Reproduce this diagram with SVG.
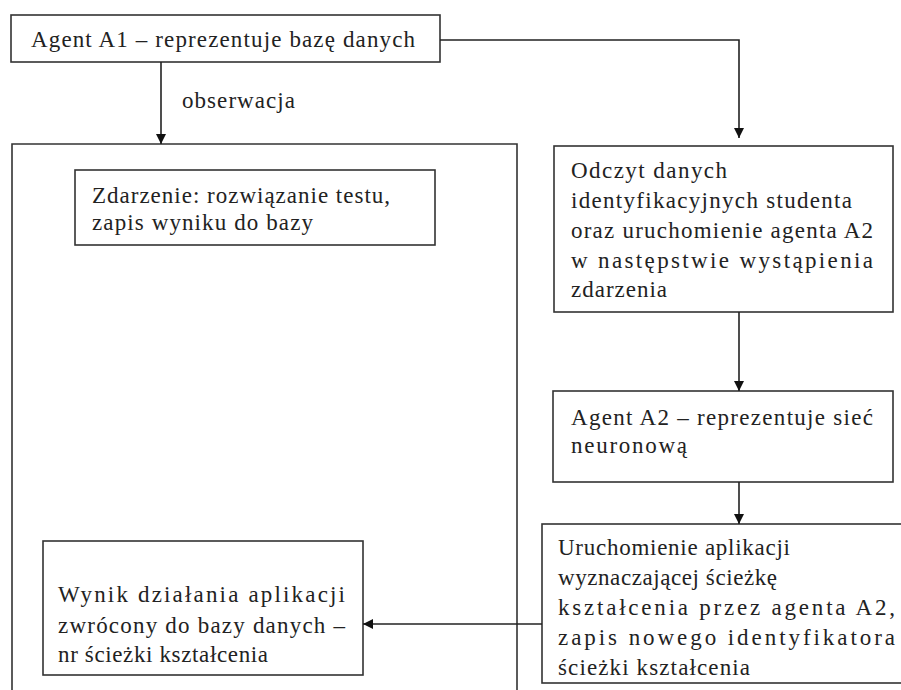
<svg xmlns="http://www.w3.org/2000/svg" width="901" height="690" viewBox="0 0 901 690">
<style>
.box{fill:#fff;stroke:#333;stroke-width:1.6}
.frame{fill:none;stroke:#333;stroke-width:1.6}
.t{font-family:"Liberation Serif","Times New Roman",serif;font-size:23px;fill:#222}
.c{fill:none;stroke:#222;stroke-width:1.6}
</style>
<defs>
<marker id="ah" markerUnits="userSpaceOnUse" markerWidth="11" markerHeight="11" refX="10" refY="5" orient="auto">
<path d="M0,0 L10,5 L0,10 z" fill="#111"/>
</marker>
</defs>
<rect width="901" height="690" fill="#fff"/>
<g id="frame">
<path class="frame" d="M12,700 V144 H517 V700"/>
</g>
<g id="agentA1">
<rect class="box" x="11" y="15" width="429" height="47"/>
<text class="t" x="31" y="47" textLength="384">Agent A1 – reprezentuje bazę danych</text>
</g>
<g id="zdarzenie">
<rect class="box" x="75" y="170" width="360" height="75"/>
<text class="t" x="92" y="203" textLength="298">Zdarzenie: rozwiązanie testu,</text>
<text class="t" x="92" y="230" textLength="221">zapis wyniku do bazy</text>
</g>
<g id="odczyt">
<rect class="box" x="554" y="146" width="339" height="166"/>
<text class="t" x="571" y="178" textLength="156">Odczyt danych</text>
<text class="t" x="571" y="208" textLength="281">identyfikacyjnych studenta</text>
<text class="t" x="571" y="238" textLength="302">oraz uruchomienie agenta A2</text>
<text class="t" x="571" y="268" textLength="302">w następstwie wystąpienia</text>
<text class="t" x="571" y="297" textLength="96">zdarzenia</text>
</g>
<g id="agentA2">
<rect class="box" x="553" y="391" width="340" height="91"/>
<text class="t" x="571" y="425" textLength="302">Agent A2 – reprezentuje sieć</text>
<text class="t" x="571" y="453" textLength="116">neuronową</text>
</g>
<g id="uruchomienie">
<rect class="box" x="542" y="524" width="370" height="159"/>
<text class="t" x="558" y="555" textLength="232">Uruchomienie aplikacji</text>
<text class="t" x="558" y="585" textLength="219">wyznaczającej ścieżkę</text>
<text class="t" x="558" y="615" textLength="337">kształcenia przez agenta A2,</text>
<text class="t" x="558" y="645" textLength="337">zapis nowego identyfikatora</text>
<text class="t" x="558" y="675" textLength="192">ścieżki kształcenia</text>
</g>
<g id="wynik">
<rect class="box" x="43" y="541" width="320" height="134"/>
<text class="t" x="58" y="602" textLength="287">Wynik działania aplikacji</text>
<text class="t" x="58" y="633" textLength="287">zwrócony do bazy danych –</text>
<text class="t" x="58" y="662" textLength="210">nr ścieżki kształcenia</text>
</g>
<g id="connectors">
<path class="c" d="M161,62 V144" marker-end="url(#ah)"/>
<text class="t" x="182" y="108" textLength="113">obserwacja</text>
<path class="c" d="M440,40 H739 V138" marker-end="url(#ah)"/>
<path class="c" d="M739,312 V391" marker-end="url(#ah)"/>
<path class="c" d="M739,482 V524" marker-end="url(#ah)"/>
<path class="c" d="M542,624 H363" marker-end="url(#ah)"/>
</g>
</svg>
